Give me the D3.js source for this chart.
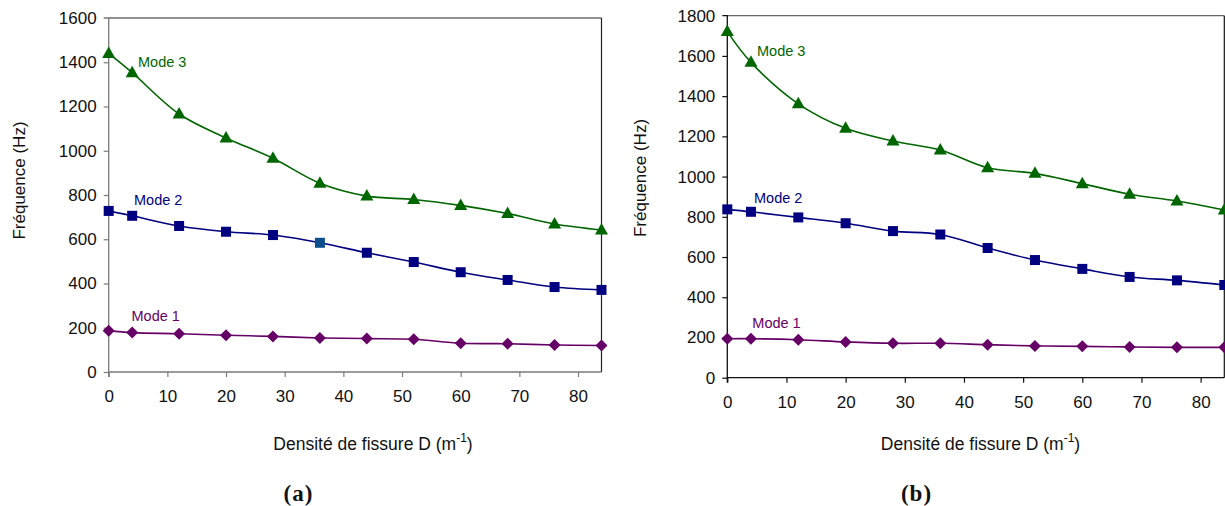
<!DOCTYPE html>
<html><head><meta charset="utf-8">
<script src="https://cdn.jsdelivr.net/npm/d3@7"></script>
<style>
html,body{margin:0;padding:0;background:#fff;}
svg{display:block;font-family:"Liberation Sans",Arial,sans-serif;}
</style></head>
<body>
<svg id="chart" width="1225" height="506"></svg>
<script>
// Data
const densities = [0, 4, 12, 20, 28, 36, 44, 52, 60, 68, 76, 84];
const xTicks = [0, 10, 20, 30, 40, 50, 60, 70, 80];

const aMode1 = [187, 178, 173, 166, 161, 154, 151, 148, 130, 128, 122, 120];
const aMode2 = [728, 706, 660, 634, 619, 584, 539, 497, 451, 416, 384, 371];
const aMode3 = [1440, 1353, 1166, 1058, 966, 853, 795, 780, 753, 716, 669, 642];
const aYTicks = [0, 200, 400, 600, 800, 1000, 1200, 1400, 1600];

const bMode1 = [194, 194, 189, 178, 171, 171, 164, 158, 156, 153, 151, 151];
const bMode2 = [837, 825, 797, 768, 729, 712, 645, 585, 541, 501, 484, 461];
const bMode3 = [1721, 1568, 1362, 1240, 1177, 1132, 1044, 1016, 965, 912, 879, 834];
const bYTicks = [0, 200, 400, 600, 800, 1000, 1200, 1400, 1600, 1800];

const modeNames = ["Mode 1", "Mode 2", "Mode 3"];
const modeColors = ["#660066", "#000080", "#006600"];
const markerTypes = ["diamond", "square", "triangle"];

const svg = d3.select("#chart");

function panel(cfg) {
  const g = svg.append("g");
  const x = d3.scaleLinear().domain([0, 84]).range([cfg.x0, cfg.x1]);
  const y = d3.scaleLinear().domain([0, cfg.yMax]).range([cfg.y0, cfg.y1]);

  // frame top/right
  g.append("line").attr("x1", cfg.x0).attr("x2", cfg.x1).attr("y1", cfg.y1).attr("y2", cfg.y1)
    .attr("stroke", cfg.topColor).attr("stroke-width", 1.2);
  g.append("line").attr("x1", cfg.x1).attr("x2", cfg.x1).attr("y1", cfg.y1).attr("y2", cfg.y0)
    .attr("stroke", cfg.rightColor).attr("stroke-width", 1.2);

  // axes
  const yAxis = g.append("g").attr("transform", `translate(${cfg.x0},0)`)
    .call(d3.axisLeft(y).tickValues(cfg.yTicks).tickSize(5).tickPadding(7).tickFormat(d3.format("d")));
  const xAxis = g.append("g").attr("transform", `translate(0,${cfg.y0})`)
    .call(d3.axisBottom(x).tickValues(xTicks).tickSize(5).tickPadding(13).tickFormat(d3.format("d")));
  [yAxis, xAxis].forEach(a => {
    a.select(".domain").attr("stroke", cfg.axisColor).attr("stroke-width", 1.3);
    a.selectAll(".tick line").attr("stroke", cfg.axisColor).attr("stroke-width", 1.2);
    a.selectAll(".tick text").attr("fill", "#111").style("font-size", "17px")
      .style("font-family", '"Liberation Sans",Arial,sans-serif');
  });
  xAxis.select(".domain").attr("d", `M${cfg.x0},5V0H${cfg.x1}`);
  yAxis.select(".domain").attr("d", `M-5,${cfg.y1}H0V${cfg.y0}`);
  yAxis.selectAll(".tick").filter(d => d === cfg.yMax).select("line").remove();

  const line = d3.line().x((d, i) => x(densities[i])).y(d => y(d)).curve(d3.curveCatmullRom.alpha(0.5));

  cfg.series.forEach((vals, si) => {
    const col = modeColors[si];
    g.append("path").datum(vals).attr("d", line).attr("fill", "none")
      .attr("stroke", col).attr("stroke-width", 1.6);
    const mk = g.append("g");
    vals.forEach((v, i) => {
      const cx = x(densities[i]), cy = y(v);
      let fill = col;
      if (cfg.oddPoint && cfg.oddPoint[0] === si && cfg.oddPoint[1] === i) fill = "#0b4f8c";
      if (markerTypes[si] === "diamond") {
        mk.append("path").attr("d", `M${cx},${cy - 6}L${cx + 6},${cy}L${cx},${cy + 6}L${cx - 6},${cy}Z`).attr("fill", fill);
      } else if (markerTypes[si] === "square") {
        mk.append("rect").attr("x", cx - 5).attr("y", cy - 5).attr("width", 10).attr("height", 10).attr("fill", fill);
      } else {
        mk.append("path").attr("d", `M${cx},${cy - 7}L${cx + 6.5},${cy + 4.5}L${cx - 6.5},${cy + 4.5}Z`).attr("fill", fill);
      }
    });
    g.append("text").attr("x", cfg.labelPos[si][0]).attr("y", cfg.labelPos[si][1])
      .attr("fill", col).style("font-size", "14.5px").text(modeNames[si]);
  });

  // y title
  g.append("text").attr("transform", `translate(${cfg.yTitleX},${cfg.yTitleY}) rotate(-90)`)
    .attr("text-anchor", "middle").style("font-size", "17px").attr("fill", "#111").text("Fréquence (Hz)");
  // x title
  const xt = g.append("text").attr("x", cfg.xTitleX).attr("y", 450).attr("text-anchor", "middle")
    .style("font-size", "17.5px").attr("fill", "#111");
  xt.append("tspan").text("Densité de fissure D (m");
  xt.append("tspan").attr("dy", -8).style("font-size", "12px").text("-1");
  xt.append("tspan").attr("dy", 8).text(")");
  // panel label
  g.append("text").attr("x", cfg.tagX).attr("y", 501).attr("text-anchor", "middle")
    .style("font-family", '"Liberation Serif","Times New Roman",serif').style("font-weight", "bold")
    .style("font-size", "23px").style("letter-spacing", "1px").attr("fill", "#111").text(cfg.tag);
}

panel({x0: 108.7, x1: 601.5, y0: 372, y1: 18, yMax: 1600, yTicks: aYTicks,
  series: [aMode1, aMode2, aMode3], axisColor: "#7a7a7a", topColor: "#222", rightColor: "#222",
  labelPos: [[131.5, 321], [134, 205], [138, 67]], oddPoint: [1, 5],
  yTitleX: 25, yTitleY: 180.5, xTitleX: 373, tagX: 298.5, tag: "(a)"});

panel({x0: 727.3, x1: 1224.3, y0: 377.7, y1: 15.7, yMax: 1800, yTicks: bYTicks,
  series: [bMode1, bMode2, bMode3], axisColor: "#111", topColor: "#666", rightColor: "#111",
  labelPos: [[752.3, 328], [754, 203], [757, 56]],
  yTitleX: 646, yTitleY: 178, xTitleX: 980.5, tagX: 916.5, tag: "(b)"});
</script>
</body></html>
